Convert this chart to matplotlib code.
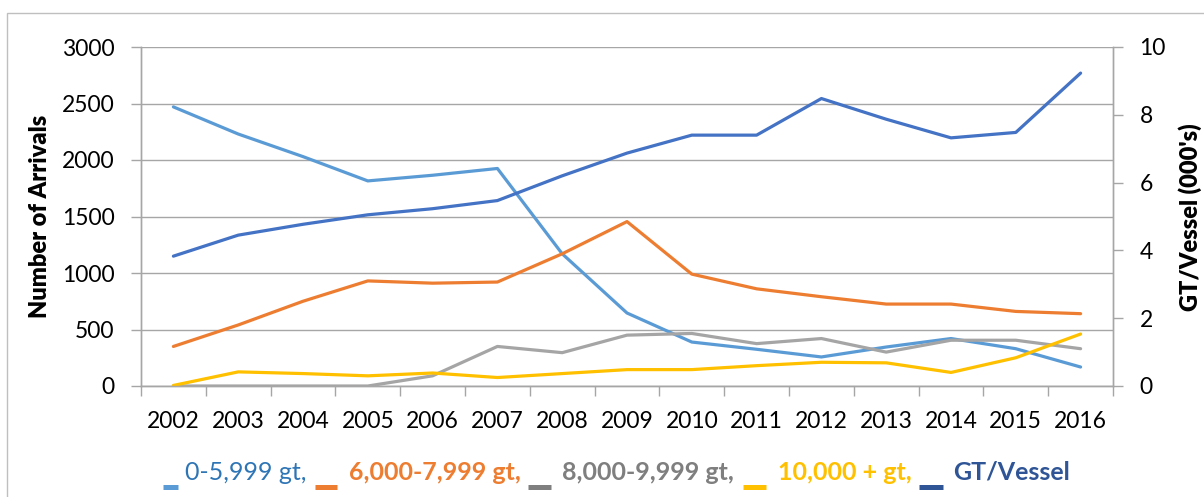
import matplotlib
matplotlib.use("Agg")
import matplotlib.pyplot as plt
from matplotlib.patches import Rectangle
from matplotlib.lines import Line2D

years = [str(y) for y in range(2002, 2017)]
s_small = [2470, 2230, 2030, 1815, 1865, 1925, 1170, 646, 389, 325, 257, 345, 420, 330, 168]
s_mid = [350, 540, 750, 930, 910, 920, 1170, 1455, 990, 860, 790, 725, 725, 660, 640]
s_large = [0, 0, 0, 0, 90, 350, 295, 450, 465, 375, 420, 300, 405, 405, 330]
s_xl = [5, 125, 110, 90, 115, 75, 110, 145, 145, 180, 210, 205, 120, 250, 460]
gt_vessel = [3.83, 4.45, 4.77, 5.05, 5.23, 5.47, 6.2, 6.87, 7.4, 7.4, 8.48, 7.87, 7.32, 7.48, 9.23]

legend_labels = ["0-5,999 gt,", "6,000-7,999 gt,", "8,000-9,999 gt,", "10,000 + gt,", "GT/Vessel"]

c_small = "#5B9BD5"
c_mid = "#ED7D31"
c_large = "#A5A5A5"
c_xl = "#FFC000"
c_gt = "#4472C4"

plt.rcParams['font.family'] = ['Lato', 'DejaVu Sans']
FS = 16.5

W, H = 1204, 497
fig = plt.figure(figsize=(W / 100, H / 100), dpi=100)
fig.patch.set_facecolor("white")
fig.patches.append(Rectangle((7 / W, -0.1), 1.2, 1.1 - 13 / H, transform=fig.transFigure,
                             fill=False, edgecolor="#BFBFBF", lw=1.0))

left, right = 141 / W, 1113 / W
bottom, top = 1 - 386 / H, 1 - 47 / H
ax = fig.add_axes([left, bottom, right - left, top - bottom])
ax2 = ax.twinx()

x = list(range(len(years)))
lw = 2.3
ax.plot(x, s_small, color=c_small, lw=lw, solid_capstyle="round", zorder=3)
ax.plot(x, s_mid, color=c_mid, lw=lw, solid_capstyle="round", zorder=3)
ax.plot(x, s_large, color=c_large, lw=lw, solid_capstyle="round", zorder=3)
ax.plot(x, s_xl, color=c_xl, lw=lw, solid_capstyle="round", zorder=3)
ax2.plot(x, gt_vessel, color=c_gt, lw=lw, solid_capstyle="round", zorder=3)

ax.set_xlim(-0.5, len(years) - 0.5)
ax.set_ylim(0, 3000)
ax2.set_ylim(0, 10)
ax.set_yticks(range(0, 3001, 500))
ax2.set_yticks(range(0, 11, 2))
ax.set_xticks(x)
ax.set_xticklabels(years)
ax.set_xticks([i - 0.5 for i in range(len(years) + 1)], minor=True)
ax.tick_params(axis="x", which="major", length=0, pad=18, labelsize=FS)
ax.tick_params(axis="x", which="minor", length=7, color="#A6A6A6", width=1)
ax.tick_params(axis="y", length=7, color="#A6A6A6", width=1, labelsize=FS, pad=12)
ax2.tick_params(axis="y", length=7, color="#A6A6A6", width=1, labelsize=FS, pad=12)

ax.grid(axis="y", color="#A6A6A6", lw=1)
ax.set_axisbelow(True)
for a in (ax, ax2):
    a.spines["top"].set_visible(False)
    for s in ("left", "right", "bottom"):
        a.spines[s].set_color("#A6A6A6")
        a.spines[s].set_linewidth(1)

fig.text(40 / W, 1 - 216 / H, "Number of Arrivals", rotation=90, ha="center", va="center",
         fontsize=17, fontweight="heavy")
fig.text(1190 / W, 1 - 217 / H, "GT/Vessel (000's)", rotation=90, ha="center", va="center",
         fontsize=17, fontweight="heavy")

# Legend
base_y = 1 - 480 / H
bar_y = 1 - 487 / H
items = [
    (163, 178, 185, legend_labels[0], "#2E75B6", "normal", c_small),
    (315, 337, 349, legend_labels[1], c_mid, "bold", c_mid),
    (528, 551, 562, legend_labels[2], "#7F7F7F", "bold", "#7F7F7F"),
    (743, 766, 778, legend_labels[3], c_xl, "bold", c_xl),
    (919, 943, 953, legend_labels[4], "#2F5597", "bold", "#2F5597"),
]
for m0, m1, tx, lab, tc, wt, mc in items:
    fig.lines.append(Line2D([m0 / W, m1 / W], [bar_y, bar_y], transform=fig.transFigure,
                            color=mc, lw=3.6, solid_capstyle="butt"))
    fig.text(tx / W, base_y, lab, color=tc, fontsize=18, fontweight=wt,
             ha="left", va="baseline")

fig.savefig("out.png", dpi=100)
